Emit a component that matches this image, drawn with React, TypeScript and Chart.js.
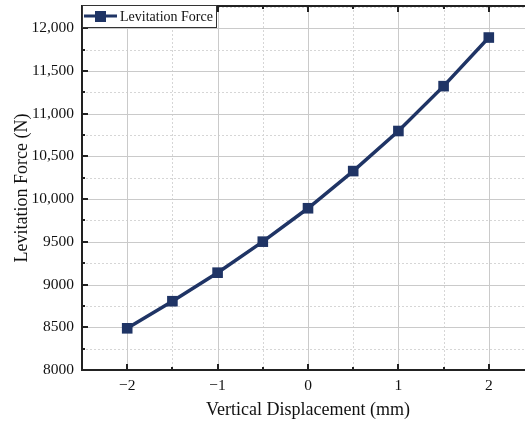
import React, { useEffect, useRef } from "react";
import { Chart, registerables } from "chart.js";

Chart.register(...registerables);

// Vertical displacement (mm) and measured levitation force (N)
const displacement = [-2, -1.5, -1, -0.5, 0, 0.5, 1, 1.5, 2];
const levitationForce = [8488, 8805, 9139, 9502, 9893, 10328, 10797, 11322, 11891];

const xMajorTicks = [-2, -1, 0, 1, 2];
const xMinorTicks = [-2.5, -1.5, -0.5, 0.5, 1.5];
const yMajorTicks = [8000, 8500, 9000, 9500, 10000, 10500, 11000, 11500, 12000];
const yMinorTicks = [8250, 8750, 9250, 9750, 10250, 10750, 11250, 11750, 12250];

const seriesLabel = "Levitation Force";
const xTitle = "Vertical Displacement (mm)";
const yTitle = "Levitation Force (N)";

const NAVY = "#1f3465";
const AXIS = "#222222";
const SERIF = "'Liberation Serif', 'Times New Roman', serif";

const formatY = (v: number) =>
  v >= 10000 ? v.toLocaleString("en-US") : String(v);
const formatX = (v: number) => (v < 0 ? "\u2212" + Math.abs(v) : String(v));

// Grid, frame, inward ticks and an inset legend
const framePlugin = {
  id: "frame",
  beforeDatasetsDraw(chart: any) {
    const { ctx, chartArea: a, scales } = chart;
    const x = scales.x;
    const y = scales.y;
    ctx.save();
    ctx.lineWidth = 1;
    // minor dotted grid
    ctx.strokeStyle = "#d6d6d6";
    ctx.setLineDash([2, 2]);
    xMinorTicks.forEach((v) => {
      const px = Math.round(x.getPixelForValue(v)) + 0.5;
      ctx.beginPath();
      ctx.moveTo(px, a.top);
      ctx.lineTo(px, a.bottom);
      ctx.stroke();
    });
    yMinorTicks.forEach((v) => {
      const py = Math.round(y.getPixelForValue(v)) + 0.5;
      if (py < a.top) return;
      ctx.beginPath();
      ctx.moveTo(a.left, py);
      ctx.lineTo(a.right, py);
      ctx.stroke();
    });
    // major solid grid
    ctx.setLineDash([]);
    ctx.strokeStyle = "#cacaca";
    xMajorTicks.forEach((v) => {
      const px = Math.round(x.getPixelForValue(v)) + 0.5;
      ctx.beginPath();
      ctx.moveTo(px, a.top);
      ctx.lineTo(px, a.bottom);
      ctx.stroke();
    });
    yMajorTicks.forEach((v) => {
      const py = Math.round(y.getPixelForValue(v)) + 0.5;
      ctx.beginPath();
      ctx.moveTo(a.left, py);
      ctx.lineTo(a.right, py);
      ctx.stroke();
    });

    // frame lines
    ctx.strokeStyle = AXIS;
    ctx.lineWidth = 2;
    ctx.beginPath();
    ctx.moveTo(a.left, a.top);
    ctx.lineTo(a.right, a.top);
    ctx.moveTo(a.left, a.top - 1);
    ctx.lineTo(a.left, a.bottom + 1);
    ctx.moveTo(a.left - 1, a.bottom);
    ctx.lineTo(a.right, a.bottom);
    ctx.stroke();

    // inward ticks
    ctx.lineWidth = 2;
    const tick = (x1: number, y1: number, x2: number, y2: number) => {
      ctx.beginPath();
      ctx.moveTo(x1, y1);
      ctx.lineTo(x2, y2);
      ctx.stroke();
    };
    xMajorTicks.forEach((v) => {
      const px = Math.round(x.getPixelForValue(v));
      tick(px, a.bottom, px, a.bottom - 6);
      tick(px, a.top, px, a.top + 6);
    });
    xMinorTicks.forEach((v) => {
      const px = Math.round(x.getPixelForValue(v));
      tick(px, a.bottom, px, a.bottom - 3);
      tick(px, a.top, px, a.top + 3);
    });
    yMajorTicks.forEach((v) => {
      const py = Math.round(y.getPixelForValue(v));
      tick(a.left, py, a.left + 6, py);
    });
    yMinorTicks.forEach((v) => {
      const py = Math.round(y.getPixelForValue(v));
      if (py < a.top + 2) return;
      tick(a.left, py, a.left + 3, py);
    });
    ctx.restore();
  },
  afterDraw(chart: any) {
    const { ctx, chartArea: a } = chart;
    ctx.save();
    // legend box
    const bx = a.left;
    const by = a.top - 1;
    const bw = 134;
    const bh = 22;
    ctx.fillStyle = "#ffffff";
    ctx.fillRect(bx, by, bw, bh);
    ctx.strokeStyle = "#333333";
    ctx.lineWidth = 1;
    ctx.strokeRect(bx + 0.5, by + 0.5, bw, bh);
    const cy = by + 11;
    ctx.strokeStyle = NAVY;
    ctx.lineWidth = 3;
    ctx.beginPath();
    ctx.moveTo(bx + 2, cy);
    ctx.lineTo(bx + 35, cy);
    ctx.stroke();
    ctx.fillStyle = NAVY;
    ctx.fillRect(bx + 13, cy - 5, 11, 11);
    ctx.fillStyle = "#111111";
    ctx.font = "14px " + SERIF;
    ctx.textBaseline = "middle";
    ctx.textAlign = "left";
    ctx.fillText(seriesLabel, bx + 38, cy + 1);
    ctx.restore();
  },
};

export default function App() {
  const canvasRef = useRef<HTMLCanvasElement | null>(null);

  useEffect(() => {
    const canvas = canvasRef.current;
    if (!canvas) return;
    const chart = new Chart(canvas, {
      type: "line",
      data: {
        datasets: [
          {
            label: seriesLabel,
            data: displacement.map((d, i) => ({ x: d, y: levitationForce[i] })),
            borderColor: NAVY,
            backgroundColor: NAVY,
            borderWidth: 3.5,
            pointStyle: "rect",
            pointRadius: 7.5,
            pointBorderWidth: 0,
            tension: 0,
          },
        ],
      },
      options: {
        responsive: false,
        animation: false,
        devicePixelRatio: 1,
        layout: { autoPadding: false, padding: { top: 6, right: 0, bottom: 0, left: 0 } },
        plugins: {
          legend: { display: false },
          tooltip: { enabled: false },
        },
        scales: {
          x: {
            type: "linear",
            min: -2.5,
            max: 2.5,
            afterBuildTicks: (s: any) => {
              s.ticks = xMajorTicks.map((v) => ({ value: v }));
            },
            afterFit: (s: any) => {
              s.height = 55;
              s.paddingLeft = 0;
              s.paddingRight = 0;
            },
            grid: { display: false, drawTicks: false },
            border: { display: false },
            ticks: {
              color: "#111111",
              font: { family: SERIF, size: 15.5 },
              padding: 7,
              maxRotation: 0,
              callback: (v: any) => formatX(Number(v)),
            },
            title: {
              display: true,
              text: xTitle,
              color: "#111111",
              font: { family: SERIF, size: 18 },
              padding: { top: 0, bottom: 4 },
            },
          },
          y: {
            type: "linear",
            min: 8000,
            max: 12260,
            afterBuildTicks: (s: any) => {
              s.ticks = yMajorTicks.map((v) => ({ value: v }));
            },
            afterFit: (s: any) => {
              s.width = 82;
              s.paddingTop = 0;
              s.paddingBottom = 0;
            },
            grid: { display: false, drawTicks: false },
            border: { display: false },
            ticks: {
              color: "#111111",
              font: { family: SERIF, size: 15.5 },
              padding: 8,
              callback: (v: any) => formatY(Number(v)),
            },
            title: {
              display: true,
              text: yTitle,
              color: "#111111",
              font: { family: SERIF, size: 18 },
              padding: { top: 11, bottom: 0 },
            },
          },
        },
      },
      plugins: [framePlugin],
    });
    return () => chart.destroy();
  }, []);

  return (
    <div
      style={{
        position: "fixed",
        left: 0,
        top: 0,
        width: 525,
        height: 425,
        overflow: "hidden",
        background: "#ffffff",
      }}
    >
      <canvas ref={canvasRef} width={534} height={425} style={{ display: "block" }} />
    </div>
  );
}
